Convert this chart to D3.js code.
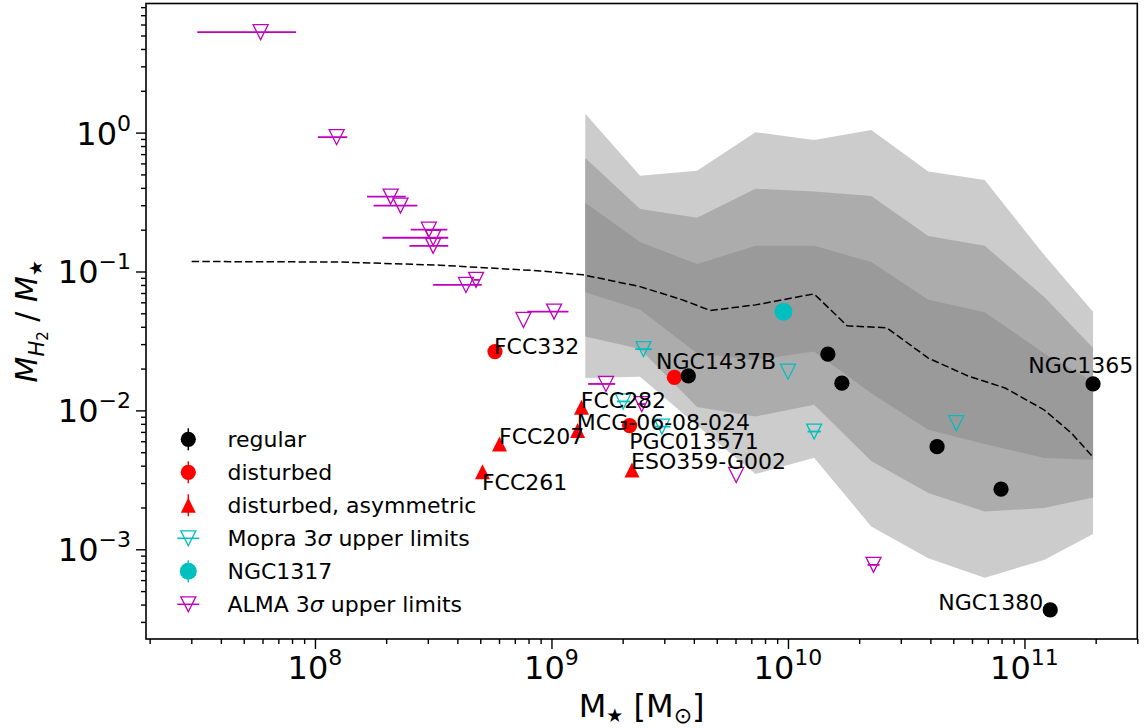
<!DOCTYPE html>
<html>
<head>
<meta charset="utf-8">
<script src="https://cdn.jsdelivr.net/npm/d3@7"></script>
<style>
  body { margin: 0; background: #fff; }
  text { font-family: "DejaVu Sans", sans-serif; fill: #000; }
</style>
</head>
<body>
<svg id="chart" width="1147" height="728"></svg>
<script>
// ---- axis ranges ----
const massDomain = [1.93e7, 3.0e11];
const ratioDomain = [2.26e-4, 8.5];
const massTicks = [1e8, 1e9, 1e10, 1e11];
const ratioTicks = [1e-3, 1e-2, 1e-1, 1e0];

// ---- galaxies: [stellar mass, M_H2 / M_star] ----
const regular = [
  [3.79e9, 0.0177], [1.475e10, 0.0254], [1.69e10, 0.0157], [4.27e10, 5.48e-3],
  [7.96e10, 2.71e-3], [1.285e11, 3.66e-4], [1.95e11, 0.0155]
];
const disturbed = [[5.77e8, 0.0265], [3.31e9, 0.0173], [2.14e9, 7.77e-3]];
const asymmetric = [
  [1.34e9, 0.01054], [1.29e9, 7.16e-3], [6.03e8, 5.74e-3], [5.11e8, 3.62e-3], [2.19e9, 3.73e-3]
];
const ngc1317 = [[9.57e9, 0.0514]];

// upper limits: [mass, ratio limit, mass lower, mass upper]
const mopraLimits = [
  [2.45e9, 0.0276, 2.26e9, 2.66e9], [2.01e9, 0.0116, 1.89e9, 2.15e9],
  [2.93e9, 7.64e-3, 2.74e9, 3.18e9], [1.00e10, 0.0190, 1.00e10, 1.00e10],
  [1.29e10, 7.04e-3, 1.21e10, 1.38e10], [5.15e10, 8.09e-3, 5.15e10, 5.15e10]
];
const almaLimits = [
  [5.89e7, 5.28, 3.18e7, 8.31e7], [1.235e8, 0.927, 1.03e8, 1.37e8],
  [2.09e8, 0.346, 1.66e8, 2.42e8], [2.30e8, 0.298, 1.77e8, 2.71e8],
  [3.03e8, 0.200, 2.54e8, 3.63e8], [3.16e8, 0.175, 1.93e8, 3.66e8],
  [3.16e8, 0.153, 2.51e8, 3.66e8], [4.35e8, 0.080, 3.16e8, 5.07e8],
  [4.80e8, 0.087, 4.68e8, 4.96e8], [7.61e8, 0.0448, 7.61e8, 7.61e8],
  [1.026e9, 0.0514, 7.91e8, 1.18e9], [1.70e9, 0.0155, 1.43e9, 1.86e9],
  [2.41e9, 0.0111, 2.30e9, 2.50e9], [6.04e9, 3.43e-3, 6.04e9, 6.04e9],
  [2.30e10, 7.72e-4, 2.17e10, 2.44e10]
];

// ---- comparison sample: binned percentiles ----
const binMass = [1.39e9, 2.37e9, 4.13e9, 7.29e9, 1.29e10, 2.25e10, 3.92e10, 6.79e10, 1.21e11, 1.95e11];
const outerHigh = [1.365, 0.490, 0.532, 1.007, 0.885, 1.045, 0.524, 0.456, 0.132, 0.0514];
const midHigh = [0.655, 0.282, 0.244, 0.394, 0.376, 0.350, 0.180, 0.153, 0.0659, 0.0281];
const innerHigh = [0.313, 0.163, 0.113, 0.153, 0.153, 0.117, 0.0625, 0.0509, 0.0258, 0.0161];
const innerLow = [0.0710, 0.0530, 0.0258, 0.0231, 0.0265, 0.0133, 0.00724, 0.00574, 0.00455, 0.00441];
const midLow = [0.0340, 0.0277, 0.0106, 0.00902, 0.0110, 0.00433, 0.00254, 0.00187, 0.00198, 0.00236];
const outerLow = [0.0171, 0.0175, 0.00780, 0.00348, 0.00457, 0.00146, 0.000863, 0.000625, 0.000839, 0.00129];

// ---- reference relation (dashed) ----
const relMass = [3.01e7, 1.28e8, 3.38e8, 8.95e8, 1.36e9, 2.37e9, 3.58e9, 4.69e9, 7.29e9, 1.29e10,
                 1.78e10, 2.61e10, 3.92e10, 5.77e10, 8.28e10, 1.21e11, 1.58e11, 1.95e11];
const relRatio = [0.118, 0.117, 0.111, 0.101, 0.0946, 0.0778, 0.0625, 0.0524, 0.0575, 0.0690,
                  0.0406, 0.0394, 0.0238, 0.0177, 0.0145, 0.0101, 0.00686, 0.0046];

// ---- galaxy names: [text, mass, ratio, anchor] ----
const nameLabels = [
  ["FCC332", 5.71e8, 0.0254, "start"],
  ["NGC1437B", 2.77e9, 0.0198, "start"],
  ["FCC282", 1.33e9, 0.01037, "start"],
  ["MCG-06-08-024", 1.28e9, 7.24e-3, "start"],
  ["FCC207", 6.0e8, 5.74e-3, "start"],
  ["PGC013571", 2.13e9, 5.28e-3, "start"],
  ["ESO359-G002", 2.17e9, 3.77e-3, "start"],
  ["FCC261", 5.08e8, 2.65e-3, "start"],
  ["NGC1365", 1.038e11, 0.01853, "start"],
  ["NGC1380", 1.20e11, 3.66e-4, "end"]
];

// ---- colours ----
const black = "#000000", red = "#ff0000", cyan = "#00bfbf", magenta = "#bf00bf";

const svg = d3.select("#chart");
const L = 146, R = 1137.3, T = 3.5, B = 639;
const x = d3.scaleLog().domain(massDomain).range([L, R]);
const y = d3.scaleLog().domain(ratioDomain).range([B, T]);

// ---- shaded percentile bands ----
const bandIdx = d3.range(binMass.length);
function band(hi, lo, fill) {
  const area = d3.area()
    .x(i => x(binMass[i]))
    .y0(i => y(lo[i]))
    .y1(i => y(hi[i]));
  svg.append("path").attr("d", area(bandIdx)).attr("fill", fill).attr("stroke", "none");
}
band(outerHigh, outerLow, "#cccccc");
band(midHigh, midLow, "#acacac");
band(innerHigh, innerLow, "#9a9a9a");

// ---- dashed relation ----
svg.append("path")
  .attr("d", d3.line().x(i => x(relMass[i])).y(i => y(relRatio[i]))(d3.range(relMass.length)))
  .attr("fill", "none").attr("stroke", "#000").attr("stroke-width", 1.5)
  .attr("stroke-dasharray", "7.5,3.2");

// ---- marker helpers ----
const triDown = s => `M0,${s/2}L${-s/2},${-s/2}L${s/2},${-s/2}Z`;
const triUp = s => `M0,${-s/2}L${-s/2},${s/2}L${s/2},${s/2}Z`;

function limits(data, color) {
  const g = svg.append("g");
  g.selectAll("line").data(data.filter(d => d[3] > d[2])).join("line")
    .attr("x1", d => x(d[2])).attr("x2", d => x(d[3]))
    .attr("y1", d => y(d[1])).attr("y2", d => y(d[1]))
    .attr("stroke", color).attr("stroke-width", 1.8);
  g.selectAll("path").data(data).join("path")
    .attr("d", triDown(15))
    .attr("transform", d => `translate(${x(d[0])},${y(d[1])})`)
    .attr("fill", "none").attr("stroke", color).attr("stroke-width", 1.3);
}
function dots(data, color, r) {
  svg.append("g").selectAll("circle").data(data).join("circle")
    .attr("cx", d => x(d[0])).attr("cy", d => y(d[1])).attr("r", r).attr("fill", color);
}

limits(almaLimits, magenta);
limits(mopraLimits, cyan);
dots(ngc1317, cyan, 9);
svg.append("g").selectAll("path").data(asymmetric).join("path")
  .attr("d", triUp(15))
  .attr("transform", d => `translate(${x(d[0])},${y(d[1])})`)
  .attr("fill", red);
dots(disturbed, red, 7.6);
dots(regular, black, 7.6);

// ---- galaxy names ----
svg.append("g").selectAll("text").data(nameLabels).join("text")
  .attr("x", d => x(d[1])).attr("y", d => y(d[2]))
  .attr("text-anchor", d => d[3])
  .attr("font-size", 22)
  .text(d => d[0]);

// ---- axes ----
function minorTicks(domain) {
  const out = [];
  for (let e = Math.floor(Math.log10(domain[0])); e <= Math.ceil(Math.log10(domain[1])); e++) {
    for (let m = 2; m <= 9; m++) {
      const v = m * Math.pow(10, e);
      if (v >= domain[0] && v <= domain[1]) out.push(v);
    }
  }
  return out;
}
function styleAxis(g) {
  g.select(".domain").remove();
  g.selectAll(".tick line").attr("stroke", "#000").attr("stroke-width", 1.4);
  g.selectAll(".tick text").remove();
}
svg.append("g").attr("transform", `translate(0,${B})`)
  .call(d3.axisBottom(x).tickValues(massTicks).tickSize(10).tickSizeOuter(0)).call(styleAxis);
svg.append("g").attr("transform", `translate(0,${B})`)
  .call(d3.axisBottom(x).tickValues(minorTicks(massDomain)).tickSize(5).tickSizeOuter(0)).call(styleAxis);
svg.append("g").attr("transform", `translate(${L},0)`)
  .call(d3.axisLeft(y).tickValues(ratioTicks).tickSize(10).tickSizeOuter(0)).call(styleAxis);
svg.append("g").attr("transform", `translate(${L},0)`)
  .call(d3.axisLeft(y).tickValues(minorTicks(ratioDomain)).tickSize(5).tickSizeOuter(0)).call(styleAxis);

function powerLabel(px, py, v, anchor) {
  const e = Math.round(Math.log10(v));
  const t = svg.append("text").attr("x", px).attr("y", py)
    .attr("text-anchor", anchor).attr("font-size", 32);
  t.append("tspan").text("10");
  t.append("tspan").attr("font-size", 22).attr("dy", -14).text(e < 0 ? "\u2212" + (-e) : String(e));
}
massTicks.forEach(v => powerLabel(x(v), 678.5, v, "middle"));
ratioTicks.forEach(v => powerLabel(131, y(v) + 12, v, "end"));

// frame
svg.append("rect").attr("x", L).attr("y", T).attr("width", R - L).attr("height", B - T)
  .attr("fill", "none").attr("stroke", "#000").attr("stroke-width", 1.6);

// axis titles
const xl = svg.append("text").attr("x", (L + R) / 2).attr("y", 717)
  .attr("text-anchor", "middle").attr("font-size", 32);
xl.append("tspan").text("M");
xl.append("tspan").attr("font-size", 19).attr("dy", 5).text("\u2605");
xl.append("tspan").attr("dy", -5).text(" [M");
xl.append("tspan").attr("font-size", 22).attr("dy", 6).text("\u2299");
xl.append("tspan").attr("dy", -6).text("]");

const yl = svg.append("text").attr("transform", `translate(37,${(T + B) / 2}) rotate(-90)`)
  .attr("text-anchor", "middle").attr("font-size", 30);
yl.append("tspan").attr("font-style", "italic").text("M");
yl.append("tspan").attr("font-style", "italic").attr("font-size", 21).attr("dy", 7).text("H");
yl.append("tspan").attr("font-size", 15).attr("dy", 4).text("2");
yl.append("tspan").attr("dy", -11).text(" / ");
yl.append("tspan").attr("font-style", "italic").text("M");
yl.append("tspan").attr("font-size", 18).attr("dy", 5).text("\u2605");

// ---- legend ----
const legendItems = [
  { kind: "dot", color: black, label: ["regular"] },
  { kind: "dot", color: red, label: ["disturbed"] },
  { kind: "tri", color: red, label: ["disturbed, asymmetric"] },
  { kind: "lim", color: cyan, label: ["Mopra 3", "\u03c3", " upper limits"] },
  { kind: "dot", color: cyan, label: ["NGC1317"], big: true },
  { kind: "lim", color: magenta, label: ["ALMA 3", "\u03c3", " upper limits"] }
];
const lg = svg.append("g");
legendItems.forEach((it, i) => {
  const cy = 439.3 + i * 33;
  const mx = 188.3;
  if (it.kind === "dot") {
    lg.append("line").attr("x1", mx).attr("x2", mx).attr("y1", cy - 11).attr("y2", cy + 11)
      .attr("stroke", it.color).attr("stroke-width", 1.5);
    lg.append("circle").attr("cx", mx).attr("cy", cy).attr("r", it.big ? 8.5 : 7.6).attr("fill", it.color);
  } else if (it.kind === "tri") {
    lg.append("line").attr("x1", mx).attr("x2", mx).attr("y1", cy - 11).attr("y2", cy + 11)
      .attr("stroke", it.color).attr("stroke-width", 1.5);
    lg.append("path").attr("d", triUp(15)).attr("transform", `translate(${mx},${cy})`).attr("fill", it.color);
  } else {
    lg.append("line").attr("x1", mx - 11).attr("x2", mx + 11).attr("y1", cy).attr("y2", cy)
      .attr("stroke", it.color).attr("stroke-width", 1.5);
    lg.append("path").attr("d", triDown(15)).attr("transform", `translate(${mx},${cy})`)
      .attr("fill", "none").attr("stroke", it.color).attr("stroke-width", 1.3);
  }
  const t = lg.append("text").attr("x", 227.5).attr("y", cy + 7.5).attr("font-size", 22);
  it.label.forEach((s, k) => {
    const sp = t.append("tspan").text(s);
    if (k === 1) sp.attr("font-style", "italic");
  });
});
</script>
</body>
</html>
